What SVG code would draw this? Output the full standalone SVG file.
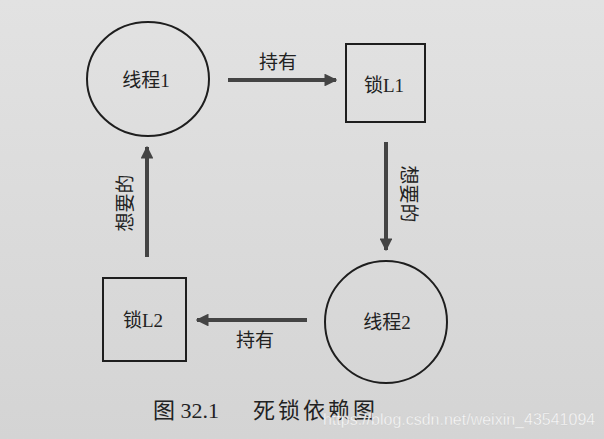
<svg xmlns="http://www.w3.org/2000/svg" width="604" height="439" viewBox="0 0 604 439">
<style>
.node{fill:none;stroke:#1e1e1e;stroke-width:2}
.lbl{font-family:"Liberation Serif","Noto Sans CJK SC",serif;font-size:19px;fill:#222;text-anchor:middle;dominant-baseline:central}
.edge{stroke:#444;stroke-width:4;fill:none}
.cap{font-family:"Liberation Serif","Noto Sans CJK SC",serif;font-size:22px;fill:#222}
.wm{font-family:"Liberation Sans",sans-serif;font-size:16px;fill:#fafafa;stroke:#c8c8c8;stroke-width:0.3}
</style>
<defs>
<linearGradient id="g" x1="0" y1="0" x2="0" y2="1">
<stop offset="0" stop-color="#e2e2e2"/>
<stop offset="1" stop-color="#d4d4d4"/>
</linearGradient>
<marker id="ah" viewBox="0 0 10 10" refX="9" refY="5" markerWidth="3.2" markerHeight="3.2" orient="auto" markerUnits="strokeWidth">
<path d="M0,0 L10,5 L0,10 Z" fill="#444"/>
</marker>
</defs>
<rect width="604" height="439" fill="url(#g)"/>
<g id="connectors">
<line class="edge" x1="228" y1="80" x2="336" y2="80" marker-end="url(#ah)"/>
<text class="lbl" x="278" y="62">持有</text>
<line class="edge" x1="386" y1="142" x2="386" y2="250" marker-end="url(#ah)"/>
<text class="lbl" transform="translate(408,194) rotate(90)">想要的</text>
<line class="edge" x1="307" y1="320" x2="197" y2="320" marker-end="url(#ah)"/>
<text class="lbl" x="255" y="340">持有</text>
<line class="edge" x1="147" y1="257" x2="147" y2="147" marker-end="url(#ah)"/>
<text class="lbl" transform="translate(125,203) rotate(-90)">想要的</text>
</g>
<g id="thread1">
<ellipse class="node" cx="148" cy="79" rx="61" ry="57"/>
<text class="lbl" x="146" y="80">线程1</text>
</g>
<g id="lockL1">
<rect class="node" x="346" y="44" width="79" height="78"/>
<text class="lbl" x="384" y="85">锁L1</text>
</g>
<g id="thread2">
<ellipse class="node" cx="386" cy="322" rx="61" ry="61"/>
<text class="lbl" x="387" y="322">线程2</text>
</g>
<g id="lockL2">
<rect class="node" x="103" y="278" width="83" height="83"/>
<text class="lbl" x="143" y="320">锁L2</text>
</g>
<g id="caption">
<text class="cap" x="153" y="418">图 32.1</text>
<text class="cap" x="253" y="418" letter-spacing="3">死锁依赖图</text>
</g>
<text class="wm" x="323" y="425">https://blog.csdn.net/weixin_43541094</text>
</svg>
